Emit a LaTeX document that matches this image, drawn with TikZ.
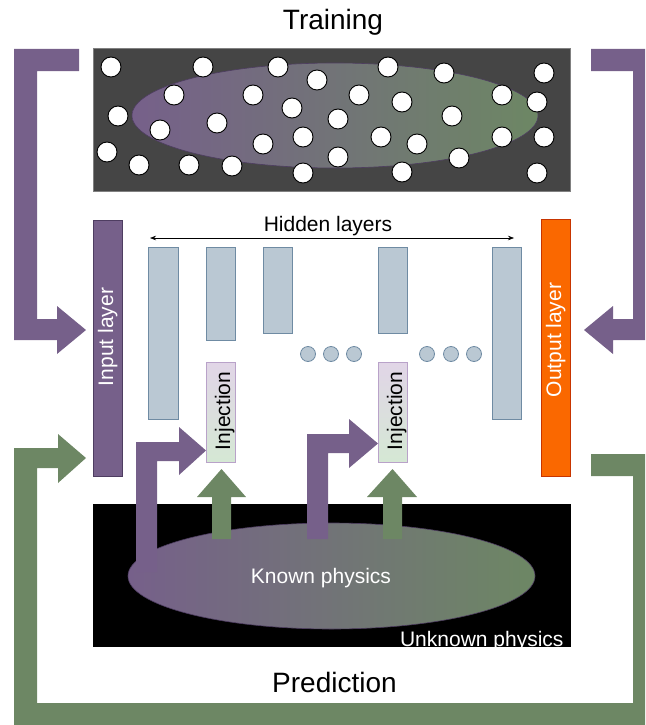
\documentclass[tikz,border=0pt]{standalone}
\usepackage{fontspec}
\setmainfont{Liberation Sans}
\usetikzlibrary{arrows.meta,shapes.geometric}
\definecolor{purp}{HTML}{76608A}
\definecolor{purpdark}{HTML}{4E3D61}
\definecolor{olive}{HTML}{6D8764}
\definecolor{orng}{HTML}{FA6800}
\definecolor{orngdark}{HTML}{C73500}
\definecolor{hid}{HTML}{BAC8D3}
\definecolor{hiddark}{HTML}{6F8BA3}
\definecolor{injtop}{HTML}{E1D5E7}
\definecolor{injbot}{HTML}{D5E8D4}
\definecolor{injdraw}{HTML}{B9A2C9}
\definecolor{darkbox}{HTML}{454545}
\tikzset{
  midtext/.style={font=\fontsize{21}{25}\selectfont},
  bigtext/.style={font=\fontsize{28}{32}\selectfont},
  hidbar/.style={draw=hiddark, fill=hid, line width=0.8pt, inner sep=0pt, minimum width=29pt},
  injbox/.style={draw=injdraw, top color=injtop, bottom color=injbot, line width=0.8pt, inner sep=0pt, minimum width=29pt, minimum height=100pt},
  hdot/.style={circle, draw=hiddark, fill=hid, line width=0.8pt, inner sep=0pt, minimum size=15pt},
  ball/.style={circle, draw=black, fill=white, line width=0.9pt, inner sep=0pt, minimum size=20pt},
  physell/.style={ellipse, draw=purpdark, line width=0.6pt, left color=purp, right color=olive, inner sep=0pt},
}
\begin{document}
\begin{tikzpicture}[x=1pt,y=-1pt]
\useasboundingbox (0,0) rectangle (645,725);

% titles
\node[bigtext, anchor=base] (train) at (333,30) {Training};
\node[bigtext, anchor=base] (pred) at (334.5,692) {Prediction};

% top data box
\node[draw=gray, fill=darkbox, line width=0.8pt, inner sep=0pt, minimum width=477pt, minimum height=143pt] (databox) at (331.5,119.5) {};
\node[physell, minimum width=406pt, minimum height=105pt] (dataell) at (335,115.5) {};
\foreach \px/\py [count=\i] in {111/67,203/67,278/67,388/67,444/73,544/73,317/80,174/95,253/95,359/95,402/102,502/95,537/102,118/116,292/108,338/119,217/123,452/116,160/130,107/152,263/144,303/137,381/137,417/144,502/137,544/137,139/165,189/165,232/166,338/157,459/158,303/173,402/172,537/173}
  \node[ball] (ball\i) at (\px,\py) {};

% hidden layers label and arrow
\node[midtext, anchor=base] (hidlab) at (328,231) {Hidden layers};
\coordinate (hl) at (150,238);
\coordinate (hr) at (514,238);
\draw[{Stealth[length=6pt,width=4.5pt]}-{Stealth[length=6pt,width=4.5pt]}, line width=0.6pt] (hl) -- (hr);

% input / output layers
\node[draw=purpdark, fill=purp, line width=0.8pt, inner sep=0pt, minimum width=29pt, minimum height=256pt] (inlayer) at (107.5,348) {};
\node[midtext, text=white, rotate=90, anchor=base] (intext) at (113,337) {Input layer};
\node[draw=orngdark, fill=orng, line width=0.8pt, inner sep=0pt, minimum width=29pt, minimum height=257pt] (outlayer) at (555.5,347.5) {};
\node[midtext, text=white, rotate=90, anchor=base] (outtext) at (561,340) {Output layer};

% hidden bars
\node[hidbar, minimum width=30pt, minimum height=172pt] (h1) at (163,333) {};
\node[hidbar, minimum height=93pt] (h2) at (220.5,293.5) {};
\node[hidbar, minimum height=86pt] (h3) at (277.5,290) {};
\node[hidbar, minimum height=86pt] (h4) at (392.5,290) {};
\node[hidbar, minimum height=172pt] (h5) at (506.5,333) {};
\foreach \dx [count=\i] in {308,331,354,427,451,474}
  \node[hdot] (dot\i) at (\dx,354) {};

% injection boxes
\node[injbox] (inj1) at (220.5,412) {};
\node[midtext, rotate=90, anchor=base] (inj1t) at (230,411) {Injection};
\node[injbox] (inj2) at (392.5,412) {};
\node[midtext, rotate=90, anchor=base] (inj2t) at (402,411) {Injection};

% bottom physics box
\node[fill=black, inner sep=0pt, minimum width=478pt, minimum height=143pt] (physbox) at (332,575.5) {};
\node[physell, minimum width=407pt, minimum height=106pt] (physell) at (331.5,576) {};
\node[midtext, text=white, anchor=base] (known) at (321,583) {Known physics};
\node[midtext, text=white, anchor=base east] (unknown) at (567,646) {Unknown physics};

% injection arrows (purple, from known physics)
\fill[purp] (136,572) -- (136,442) -- (179,442) -- (179,427) -- (206,450.5) -- (179,475) -- (179,461) -- (157,461) -- (157,572) -- cycle;
\fill[purp] (307,539) -- (307,434) -- (349,434) -- (349,419) -- (378,443.5) -- (349,468) -- (349,453) -- (328,453) -- (328,539) -- cycle;

% green up arrows
\fill[olive] (212,539) -- (212,497) -- (197,497) -- (221.5,469) -- (246,497) -- (231,497) -- (231,539) -- cycle;
\fill[olive] (383,539) -- (383,497) -- (367,497) -- (392.5,469) -- (417,497) -- (402,497) -- (402,539) -- cycle;

% training loop brackets (purple)
\fill[purp] (14,49) -- (79,49) -- (79,71) -- (37,71) -- (37,319) -- (57,319) -- (57,306) -- (86,330) -- (57,354) -- (57,340) -- (14,340) -- cycle;
\fill[purp] (591,49) -- (645,49) -- (645,340) -- (613,340) -- (613,354) -- (584,330) -- (613,306) -- (613,319) -- (633,319) -- (633,71) -- (591,71) -- cycle;

% prediction loop (green)
\fill[olive] (591,454) -- (645,454) -- (645,725) -- (14,725) -- (14,448) -- (58,448) -- (58,434) -- (86,458) -- (58,483) -- (58,468) -- (37,468) -- (37,703) -- (633,703) -- (633,476) -- (591,476) -- cycle;
\end{tikzpicture}
\end{document}
